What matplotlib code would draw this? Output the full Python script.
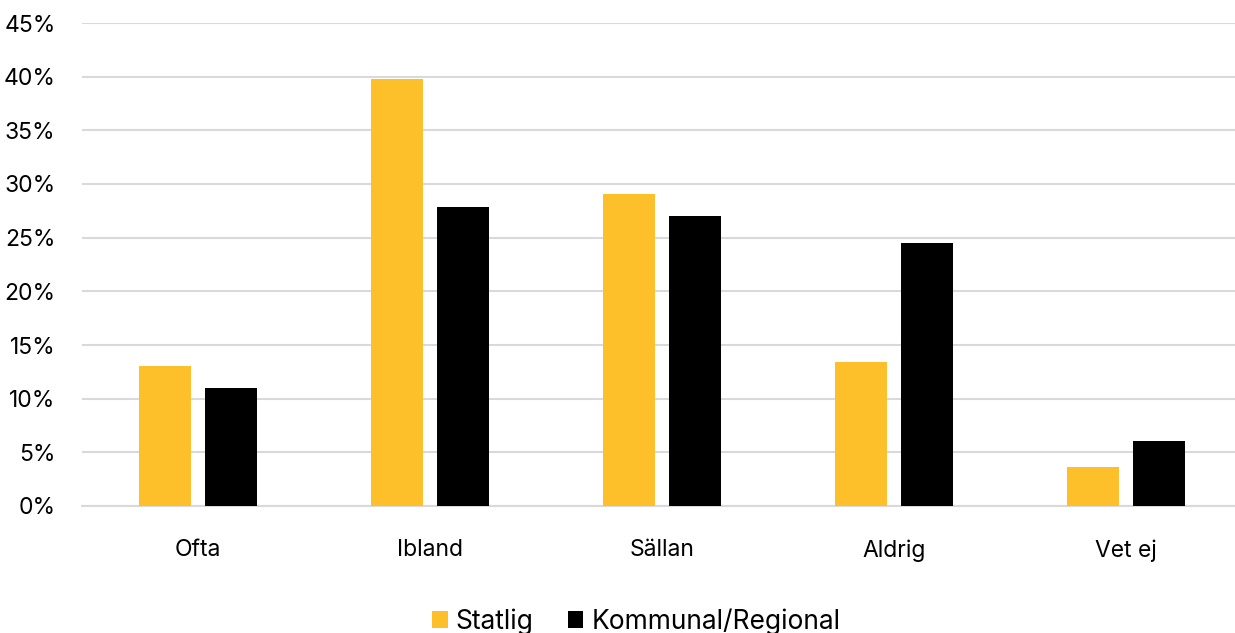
import matplotlib
matplotlib.use("Agg")
import matplotlib.pyplot as plt
import numpy

categories = ["Ofta", "Ibland", "Sällan", "Aldrig", "Vet ej"]
statlig = [13.0, 39.8, 29.1, 13.4, 3.6]
kommunal = [11.0, 27.9, 27.0, 24.5, 6.1]
series_names = ["Statlig", "Kommunal/Regional"]
yticks = [0, 5, 10, 15, 20, 25, 30, 35, 40, 45]

plt.rcParams['font.family'] = ['Inter', 'DejaVu Sans']

fig = plt.figure(figsize=(12.35, 6.33), dpi=100)
ax = fig.add_axes([82 / 1235, 1 - 506 / 633, 1160 / 1235, (506 - 23) / 633])

x = numpy.arange(len(categories))
width = 0.224
offset = 0.143

ax.bar(x - offset, statlig, width, color="#FDBF2A", label=series_names[0], zorder=3)
ax.bar(x + offset, kommunal, width, color="#000000", label=series_names[1], zorder=3)

ax.set_xlim(-0.5, len(categories) - 0.5)
ax.set_ylim(0, 45)
ax.set_yticks(yticks)
ax.set_yticklabels(["{}%".format(t) for t in yticks])
ax.set_xticks(x)
ax.set_xticklabels(categories)

ax.yaxis.grid(True, color="#D9D9D9", linewidth=1.5, zorder=0)
ax.tick_params(axis="both", length=0, labelsize=16.5)
ax.tick_params(axis="x", pad=24)
ax.tick_params(axis="y", pad=19)
for side in ["top", "right", "left"]:
    ax.spines[side].set_visible(False)
ax.spines["bottom"].set_color("#D9D9D9")
ax.spines["bottom"].set_linewidth(1.5)

fig.legend(loc="lower center", bbox_to_anchor=(0.515, -0.04), ncol=2, frameon=False,
           fontsize=19, handlelength=0.6, handleheight=0.6, handletextpad=0.3, columnspacing=1.3)

fig.savefig("out.png", dpi=100)
